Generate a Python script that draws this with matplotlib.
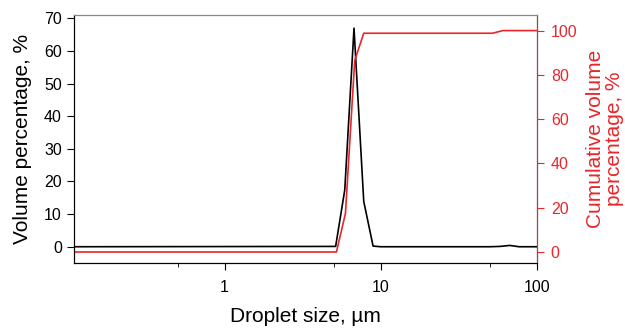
import matplotlib
matplotlib.use('Agg')
import matplotlib.pyplot as plt
from matplotlib.ticker import FixedLocator, NullFormatter

plt.rcParams['font.family'] = ['Liberation Sans', 'DejaVu Sans']

# droplet size distribution
size_um = [0.108, 5.14, 5.88, 6.74, 7.78, 8.93, 10, 50, 58, 67, 77, 100]
volume_pct = [0, 0.1, 17.4, 67, 13.9, 0.2, 0, 0, 0.1, 0.4, 0, 0]

cum_size_um = [0.108, 5.2, 5.94, 6.81, 7.78, 10, 52, 60.5, 100]
cum_volume_pct = [0, 0, 17.4, 86.5, 98.8, 98.8, 98.8, 100, 100]

red = '#e8262b'

fig = plt.figure(figsize=(6.25, 3.28), dpi=100)
ax = fig.add_axes([0.118, 0.198, 0.741, 0.756])
ax2 = ax.twinx()

ax.plot(size_um, volume_pct, color='black', lw=1.2)
ax2.plot(cum_size_um, cum_volume_pct, color=red, lw=1.2)

ax.set_xscale('log')
ax.set_xlim(0.108, 100)
ax.set_ylim(-5, 71)
ax2.set_ylim(-5, 107)

ax.set_xticks([1, 10, 100])
ax.set_xticklabels(['1', '10', '100'])
ax.xaxis.set_minor_locator(FixedLocator([0.5, 5, 50]))
ax.xaxis.set_minor_formatter(NullFormatter())
ax.set_yticks(range(0, 71, 10))
ax2.set_yticks(range(0, 101, 20))

ax.tick_params(labelsize=11.5, direction='out', length=5)
ax.tick_params(axis='x', pad=7)
ax.tick_params(which='minor', length=3)
ax2.tick_params(labelsize=11.5, colors=red, length=5, pad=5)

ax.set_xlabel('Droplet size, µm', fontsize=15, labelpad=9)
ax.set_ylabel('Volume percentage, %', fontsize=15, labelpad=9)
ax2.set_ylabel('Cumulative volume\npercentage, %', fontsize=15, color=red,
               labelpad=6, linespacing=1.05)

ax2.spines['right'].set_color(red)
ax2.spines['top'].set_color('#888888')
ax.spines['top'].set_color('#888888')

fig.savefig('out.png', dpi=100)
